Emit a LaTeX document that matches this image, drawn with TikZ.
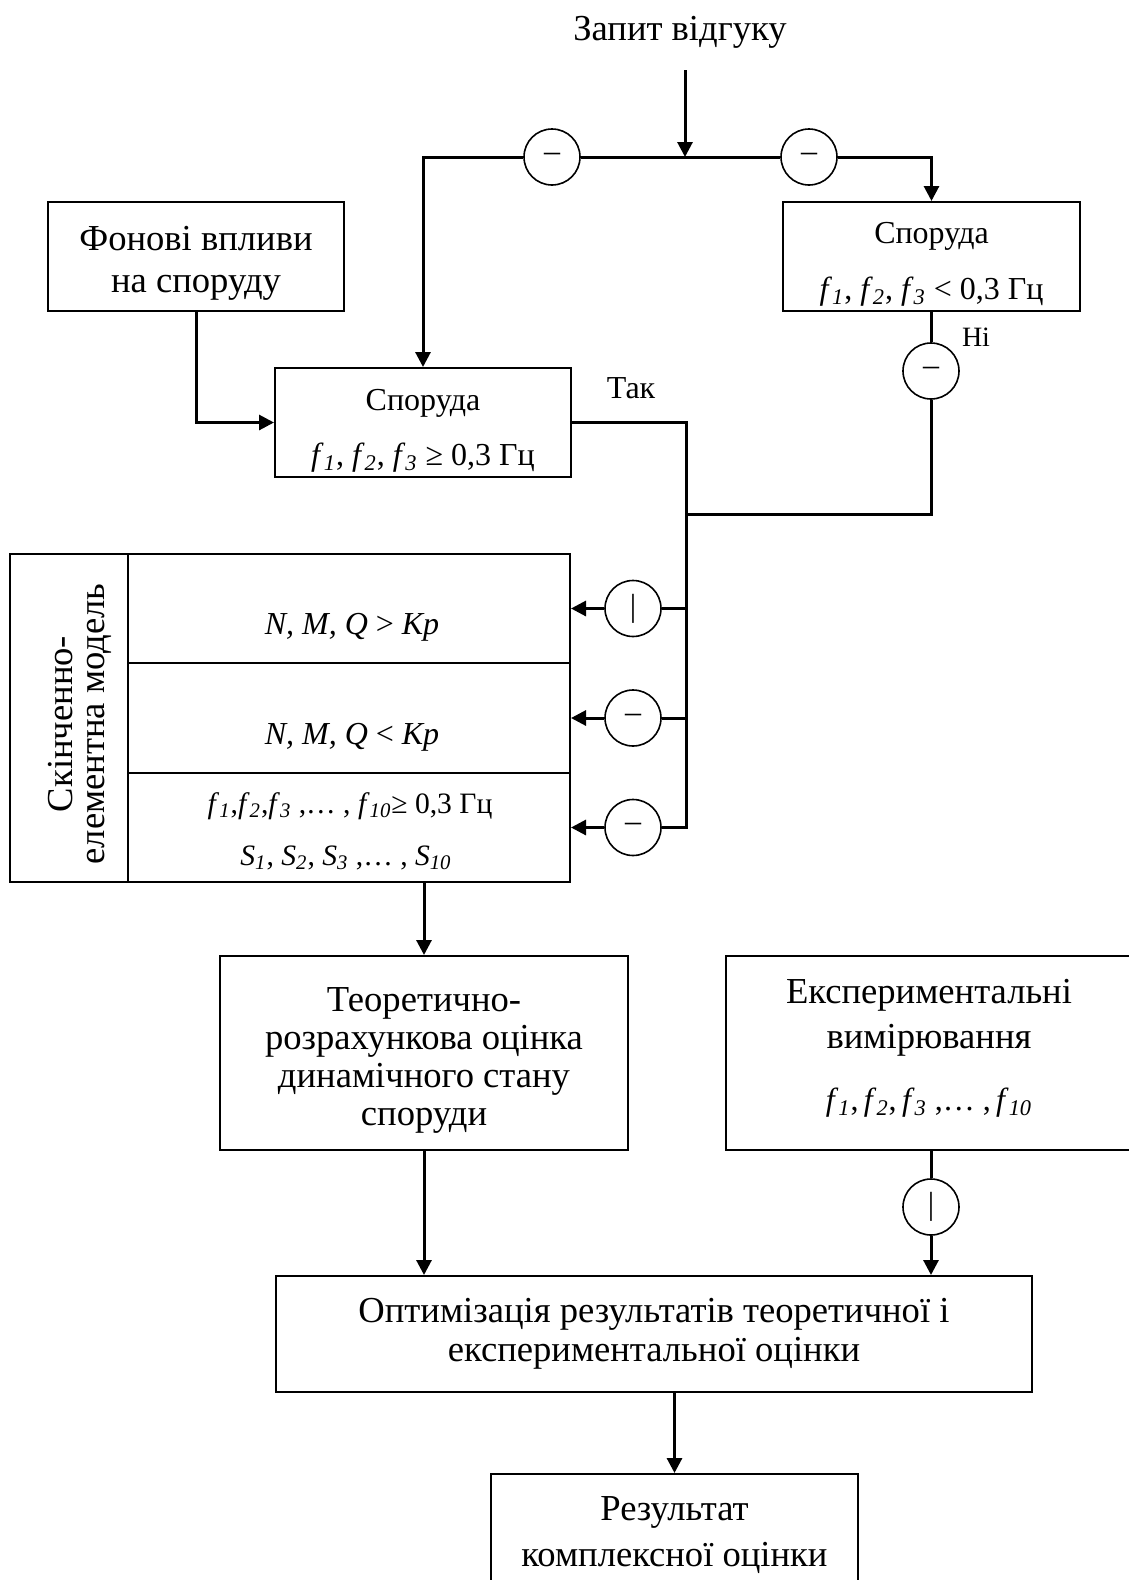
\documentclass[tikz,border=0pt]{standalone}
\usepackage{fontspec}
\setmainfont{Liberation Serif}
\usetikzlibrary{arrows.meta}
\newcommand\mainf{\fontsize{18.3}{19}\selectfont}
\newcommand\smallf{\fontsize{16}{19}\selectfont}
\newcommand\rowf{\fontsize{14.8}{19}\selectfont}
\newcommand\tinyf{\fontsize{14}{16}\selectfont}
\newcommand\fs[1]{\textit{f}\textsubscript{\textit{#1}}}
\newcommand\Ss[1]{\textit{S}\textsubscript{\textit{#1}}}
\begin{document}
\begin{tikzpicture}[x=0.5pt,y=-0.5pt,
  ln/.style={line width=1.5pt},
  arr/.style={line width=1.5pt,-{Triangle[length=7.5pt,width=7.5pt]}},
  box/.style={draw,line width=1pt,inner sep=0pt},
  txt/.style={align=center,inner sep=0pt},
  sig/.style={draw,circle,line width=0.8pt,minimum size=28pt,inner sep=0pt,fill=white,font=\smallf}]
\useasboundingbox (0,0) rectangle (1129,1580);
\clip (0,0) rectangle (1129,1580);

% top request
\node[font=\mainf] (req) at (680,32) {Запит відгуку};
\coordinate (reqtop) at (685,70);
\coordinate (jtop) at (685,157);
\node[sig] (c1) at (552,157) {–};
\node[sig] (c2) at (809,157) {–};

% upper boxes
\node[box,minimum width=148pt,minimum height=54.5pt] (fon) at (196,256.5) {};
\node[txt,font=\mainf,yshift=-3.5pt] (fontxt) at (fon) {Фонові впливи\\[2pt]на споруду};
\node[box,minimum width=148.5pt,minimum height=54.5pt] (sporR) at (931.5,256.5) {};
\node[txt,font=\smallf,yshift=-4pt] (sporRtxt) at (sporR) {Споруда\\[9pt]\fs{1}, \fs{2}, \fs{3} < 0,3 Гц};
\node[box,minimum width=148pt,minimum height=54.5pt] (sporL) at (423,422.5) {};
\node[txt,font=\smallf,yshift=-4pt] (sporLtxt) at (sporL) {Споруда\\[8.5pt]\fs{1}, \fs{2}, \fs{3} ≥ 0,3 Гц};
\node[sig] (c3) at (931,371) {–};
\node[font=\tinyf] (ni) at (976,337) {Ні};
\node[font=\smallf] (tak) at (631,388) {Так};

% finite element model
\node[box,minimum width=59pt,minimum height=164pt] (fecol) at (69,718) {};
\node[txt,rotate=90,font=\mainf] (fecoltxt) at (80,724) {Скінченно-\\[-3pt]елементна модель};
\node[box,minimum width=221pt,minimum height=54.5pt] (r1) at (349,608.5) {};
\node[box,minimum width=221pt,minimum height=55pt] (r2) at (349,718) {};
\node[box,minimum width=221pt,minimum height=54.5pt] (r3) at (349,827.5) {};
\node[font=\smallf] (t1) at (352,627) {\textit{N, M, Q} > \textit{Кр}};
\node[font=\smallf] (t2) at (352,737) {\textit{N, M, Q} < \textit{Кр}};
\node[font=\rowf] (t3) at (350,806) {\fs{1},\fs{2},\fs{3} ,… , \fs{10}≥ 0,3 Гц};
\node[font=\rowf] (t4) at (346,858) {\Ss{1}, \Ss{2}, \Ss{3} ,… , \Ss{10}};
\node[sig] (c4) at (633,608.5) {|};
\node[sig] (c5) at (633,718) {–};
\node[sig] (c6) at (633,827.5) {–};
\coordinate (bustop) at (686,422.5);
\coordinate (busbot) at (686,827.5);
\coordinate (jR) at (686,514);

% lower boxes
\node[box,minimum width=204pt,minimum height=97pt] (teor) at (424,1053) {};
\node[txt,font=\mainf,yshift=-3.5pt] (teortxt) at (teor) {Теоретично-\\розрахункова оцінка\\динамічного стану\\споруди};
\node[box,minimum width=203pt,minimum height=97pt] (exp) at (929,1053) {};
\node[txt,font=\mainf,yshift=2.5pt] (exptxt) at (exp) {Експериментальні\\[3.5pt]вимірювання\\[12pt]{\smallf\fs{1},\,\fs{2},\,\fs{3} ,… ,\,\fs{10}}};
\node[sig] (c7) at (931,1207) {|};
\node[box,minimum width=378pt,minimum height=58pt] (opt) at (654,1334) {};
\node[txt,font=\mainf] (opttxt) at (opt) {Оптимізація результатів теоретичної і\\[0.5pt]експериментальної оцінки};
\node[box,minimum width=183.5pt,minimum height=63pt] (res) at (674.5,1537) {};
\node[txt,font=\mainf,yshift=1pt] (restxt) at (res) {Результат\\[4pt]комплексної оцінки};

% connectors
\draw[arr] (reqtop) -- (jtop);
\draw[ln] (jtop) -- (c1);
\draw[arr] (c1) -| (sporL.north);
\draw[ln] (jtop) -- (c2);
\draw[arr] (c2) -| (sporR.north);
\draw[arr] (fon.south) |- (sporL.west);
\draw[ln] (sporR.south -| c3) -- (c3);
\draw[ln] (c3) |- (jR);
\draw[ln] (sporL.east) -- (bustop) -- (busbot) -- (c6);
\draw[arr] (c6) -- (c6 -| r3.east);
\draw[ln] (c4 -| bustop) -- (c4);
\draw[arr] (c4) -- (c4 -| r1.east);
\draw[ln] (c5 -| bustop) -- (c5);
\draw[arr] (c5) -- (c5 -| r2.east);
\draw[arr] (teor.north |- r3.south) -- (teor.north);
\draw[arr] (teor.south) -- (teor.south |- opt.north);
\draw[ln] (exp.south -| c7) -- (c7);
\draw[arr] (c7) -- (c7 |- opt.north);
\draw[arr] (res.north |- opt.south) -- (res.north);
\end{tikzpicture}
\end{document}
